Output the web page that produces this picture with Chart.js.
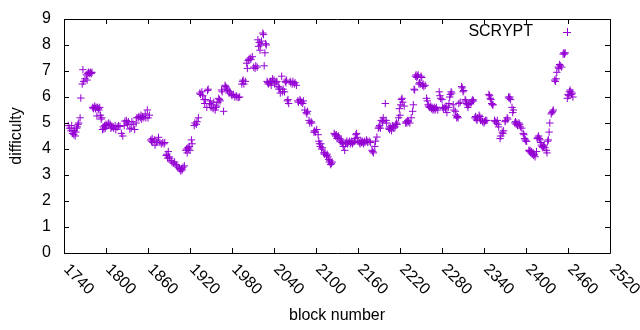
<!DOCTYPE html>
<html>
<head>
<meta charset="utf-8">
<script src="https://cdn.jsdelivr.net/npm/chart.js@4/dist/chart.umd.min.js"></script>
<style>
  html, body { margin: 0; padding: 0; background: #fff; }
  canvas { display: block; }
</style>
</head>
<body>
<canvas id="canvas" width="640" height="330"></canvas>
<script>
// data (block number, difficulty)
const blocks = [
  1746,1748,1750,1751,1752,1753,1754,1755,1756,1757,1758,1759,1760,1761,1763,1764,1766,1767,1768,1770,1772,1773,1774,1775,1776,1777,1778,1779,1780,
  1781,1782,1783,1784,1785,1786,1787,1788,1789,1790,1791,1792,1793,1794,1795,1796,1797,1798,1799,1800,1801,1803,1804,1806,1807,1808,1810,1811,1813,1814,1816,1818,1820,1822,1824,1826,1827,1829,1830,1831,1832,1834,1836,1837,1839,1841,1843,1844,1846,1847,1849,1850,1851,1852,1854,1856,1857,1859,1860,1862,
  1864,1865,1866,1867,1869,1870,1872,1873,1875,1877,1879,1881,1883,1884,
  1886,1887,1888,1889,1890,1891,1893,1894,1896,1898,1900,1901,1903,1905,1906,1907,1908,1909,1910,1912,
  1914,1915,1916,1917,1918,1919,1920,1922,1923,
  1926,1927,1929,1930,1932,1934,1935,1937,1938,1940,1941,1942,1944,1945,1946,1948,1949,1950,1951,1953,1954,1956,1957,1958,1960,1961,1962,1963,1965,1966,1968,1970,1971,1972,1973,1974,1976,1977,1979,1980,1982,1984,1986,1987,1989,1991,
  1994,1995,1996,1997,1999,2001,2002,2003,2004,2006,2007,2009,2011,2013,2014,2016,2017,2018,2019,2020,2021,2022,2024,2025,2026,2027,2028,2029,2030,
  2031,2032,2034,2035,2036,2037,2038,2040,2041,2043,2044,2046,2047,2048,2049,2051,2052,2053,2055,2056,2057,2058,2059,2060,2061,2063,2064,2066,2067,2069,2070,2072,
  2074,2075,2077,2078,2079,2081,2082,2084,2086,2087,2088,2090,2091,2093,2094,
  2097,2098,2099,2101,2103,2104,2105,2106,2107,2108,2109,2111,2112,2113,2115,2116,2117,2118,2119,2120,2121,2122,2123,
  2126,2127,2128,2129,2130,2131,2132,2134,2135,2136,2137,2138,2139,2141,2142,2143,2144,2145,2146,2148,2149,2150,2151,2152,2153,2155,2156,2157,2158,2159,2160,2162,2163,2164,2165,2166,2167,2168,2169,2170,2172,2173,2174,
  2176,2178,2180,2181,2182,2184,2185,2187,2189,2190,2191,2192,2193,2195,2196,2197,2199,2200,2201,
  2204,2205,2206,2207,2208,2209,2210,2211,2213,2214,2215,2216,2218,2219,2220,2221,2222,2223,2224,2226,2228,2229,2230,2231,2232,2234,2236,2238,2239,2240,2241,2242,2243,2244,2245,2246,2247,2248,2249,2250,2251,2252,2253,2254,2256,
  2258,2259,2260,2261,2262,2263,2264,2265,2266,2267,2268,2269,2270,2271,2272,2274,2276,2277,2278,2280,2281,2282,2284,2285,2286,2287,2289,2290,2291,2292,2293,2294,2296,2297,2299,2300,2301,2302,2303,2304,2306,2308,2309,2310,2311,2313,2314,2315,2316,2317,2318,2320,2322,2323,2324,2325,
  2327,2328,2329,2330,2331,2333,2334,2335,2337,2338,2340,2341,2342,2344,2347,2348,2349,2350,2351,2352,2353,2355,2356,2358,2359,2360,2361,2363,2364,2366,2367,2368,2370,2371,2373,2374,2375,2376,2377,2378,2380,2381,2382,
  2384,2385,2386,2387,2388,2390,2391,2392,2394,2396,2397,2398,2399,2400,2401,
  2404,2405,2406,2407,2408,2409,2410,2411,2412,2413,2415,2416,2417,2418,2419,2420,2421,2422,2423,2424,2425,2426,2427,2429,2430,2431,2432,2433,2434,2436,2437,2438,2439,2441,2442,2443,2444,2446,2447,2448,2449,2451,2453,2454,2455,2456,2459,2460,2461,2462,2463,2464,2465,2466,2467
];
const difficulty = [
  4.9,4.8,4.7,4.9,4.6,4.7,4.55,4.7,4.5,4.65,4.8,4.85,4.95,5.0,5.2,5.96,6.5,7.05,6.6,6.7,6.85,6.65,6.9,6.95,6.9,6.92,6.95,6.9,6.95,
  5.6,5.55,5.6,5.65,5.55,5.6,5.27,5.6,5.55,5.5,5.6,5.3,5.15,5.2,4.75,4.85,4.77,4.9,4.8,4.95,4.9,4.96,5.0,4.95,4.8,4.85,4.85,4.8,4.9,4.75,4.85,4.9,4.87,4.6,4.5,4.9,5.07,5.1,5.0,4.95,5.05,4.77,4.8,5.05,4.95,4.75,5.0,5.2,5.2,5.25,5.2,5.3,5.15,5.25,5.2,5.35,5.2,5.5,5.2,5.3,
  4.35,4.3,4.4,4.25,4.35,4.15,4.25,4.3,4.45,4.25,4.2,4.25,4.2,4.25,
  3.75,3.8,3.65,3.9,3.7,3.65,3.55,3.5,3.45,3.5,3.4,3.35,3.3,3.25,3.2,3.15,3.25,3.2,3.3,3.35,
  3.95,4.0,3.85,4.05,4.0,4.1,3.95,4.35,4.2,
  4.9,5.0,4.95,5.05,5.2,6.15,6.1,6.2,6.05,5.9,5.75,5.9,5.6,6.25,6.3,5.75,5.85,5.6,5.7,5.55,5.8,5.5,5.6,5.65,5.8,5.95,5.9,5.85,6.27,6.2,5.45,6.45,6.4,6.35,6.3,6.25,6.15,6.2,6.1,6.05,6.1,6.0,6.05,6.0,5.98,6.0,
  6.5,6.6,6.65,6.5,6.6,7.3,7.1,7.4,7.45,7.5,7.45,7.55,7.15,7.1,7.2,7.15,8.2,7.95,8.1,7.8,8.0,8.15,8.46,8.4,7.2,7.7,8.05,8.0,6.6,
  6.55,6.5,6.55,6.6,6.45,6.6,6.7,6.65,6.5,6.55,6.6,6.4,6.3,6.35,6.15,6.8,6.2,6.3,6.2,6.6,6.55,6.65,5.85,5.9,5.75,6.6,6.55,6.5,6.6,6.5,6.55,6.45,
  5.85,5.8,5.9,5.85,5.8,5.75,5.85,5.5,5.4,5.35,5.45,5.1,5.0,5.05,5.0,
  4.65,4.7,4.65,4.75,4.55,4.3,4.2,4.1,4.2,4.0,4.05,3.85,3.8,3.85,3.75,3.8,3.7,3.6,3.5,3.55,3.4,3.45,3.5,
  4.6,4.55,4.5,4.55,4.4,4.45,4.5,4.4,4.3,4.35,4.25,4.2,4.1,3.95,4.2,4.25,4.3,4.2,4.25,4.3,4.2,4.25,4.3,4.2,4.25,4.3,4.4,4.55,4.6,4.45,4.3,4.25,4.2,4.3,4.25,4.3,4.25,4.2,4.3,4.25,4.35,4.3,4.25,
  4.3,4.25,3.95,3.9,3.85,4.1,4.3,4.46,4.8,4.85,4.9,4.8,5.1,5.05,5.2,5.1,5.75,5.1,5.0,
  4.8,4.75,4.85,4.8,4.7,4.9,4.85,4.8,4.85,4.95,5.0,4.95,5.2,5.55,5.3,5.7,5.9,5.95,5.8,5.65,5.0,5.05,5.0,5.1,5.05,5.0,5.2,5.45,5.7,6.3,6.27,6.8,6.85,6.75,6.8,6.85,6.5,6.55,6.5,6.8,6.75,6.45,6.5,6.4,6.45,
  5.95,5.85,5.7,5.65,5.6,5.6,5.65,5.55,5.6,5.5,5.55,5.6,5.5,5.55,5.6,5.5,6.2,6.05,5.95,5.9,5.6,5.55,5.6,5.55,5.65,5.4,5.6,5.75,6.0,6.1,6.2,6.15,5.7,5.5,5.45,5.3,5.2,5.25,5.2,5.75,5.8,6.4,6.35,6.2,6.25,5.9,5.85,5.75,5.7,5.6,5.7,5.75,5.8,5.85,5.9,5.85,
  5.2,5.25,5.15,5.1,5.2,5.3,5.25,5.1,5.15,5.05,5.0,5.05,5.1,5.1,6.1,6.05,5.95,5.9,5.75,5.7,5.7,5.1,5.05,5.0,5.1,4.95,4.85,4.4,4.5,4.65,4.6,4.7,5.05,5.1,5.2,5.15,6.0,5.95,6.0,5.9,5.6,5.4,5.5,
  5.0,5.05,4.95,5.0,4.9,5.0,4.95,4.85,4.8,4.6,4.55,4.4,4.35,4.3,4.3,
  3.95,3.9,3.95,3.85,3.9,3.8,3.85,3.75,3.8,3.7,3.9,4.4,4.45,4.5,4.4,4.35,4.25,4.15,4.1,4.05,4.1,4.15,4.05,3.95,3.85,4.3,4.35,4.65,5.0,5.35,5.4,5.45,5.5,6.65,6.6,6.7,6.95,7.15,7.1,7.25,7.2,7.15,7.65,7.7,7.65,7.7,5.95,6.1,6.05,6.2,6.27,6.2,6.1,6.15,6.0
];
const xTicks = [1740, 1800, 1860, 1920, 1980, 2040, 2100, 2160, 2220, 2280, 2340, 2400, 2460, 2520];
const yTicks = [0, 1, 2, 3, 4, 5, 6, 7, 8, 9];
const seriesName = 'SCRYPT';

const purple = '#9400d3';
const font = '16px "Liberation Sans", Arial, sans-serif';

const points = blocks.map((b, i) => ({ x: b, y: difficulty[i] }));

// gnuplot-like frame, ticks, labels and key
const frame = {
  id: 'frame',
  afterDraw(chart) {
    const ctx = chart.ctx;
    const a = chart.chartArea;
    const xs = chart.scales.x, ys = chart.scales.y;
    const tick = 5;
    ctx.save();
    ctx.strokeStyle = '#000';
    ctx.lineWidth = 1;
    ctx.beginPath();
    ctx.rect(Math.round(a.left) + 0.5, Math.round(a.top) + 0.5,
      Math.round(a.right - a.left), Math.round(a.bottom - a.top));
    xTicks.forEach(v => {
      const x = Math.round(xs.getPixelForValue(v)) + 0.5;
      ctx.moveTo(x, a.bottom); ctx.lineTo(x, a.bottom - tick);
      ctx.moveTo(x, a.top); ctx.lineTo(x, a.top + tick);
    });
    yTicks.forEach(v => {
      const y = Math.round(ys.getPixelForValue(v)) + 0.5;
      ctx.moveTo(a.left, y); ctx.lineTo(a.left + tick, y);
      ctx.moveTo(a.right, y); ctx.lineTo(a.right - tick, y);
    });
    ctx.stroke();

    ctx.fillStyle = '#000';
    ctx.font = font;
    ctx.textAlign = 'right';
    ctx.textBaseline = 'middle';
    yTicks.forEach(v => {
      ctx.fillText(String(v), a.left - 13, ys.getPixelForValue(v));
    });

    ctx.textAlign = 'left';
    xTicks.forEach(v => {
      ctx.save();
      ctx.translate(xs.getPixelForValue(v) + 2, a.bottom + 14);
      ctx.rotate(Math.PI / 4);
      ctx.fillText(String(v), 0, 0);
      ctx.restore();
    });

    ctx.textAlign = 'center';
    ctx.fillText('block number', (a.left + a.right) / 2, 316);
    ctx.save();
    ctx.translate(17, (a.top + a.bottom) / 2);
    ctx.rotate(-Math.PI / 2);
    ctx.fillText('difficulty', 0, 0);
    ctx.restore();

    // key
    ctx.textAlign = 'right';
    ctx.fillText(seriesName, 533, 32);
    ctx.strokeStyle = purple;
    ctx.beginPath();
    ctx.moveTo(563, 32.5); ctx.lineTo(571, 32.5);
    ctx.moveTo(567.5, 28); ctx.lineTo(567.5, 36);
    ctx.stroke();
    ctx.restore();
  }
};

const chart = new Chart(document.getElementById('canvas'), {
  type: 'scatter',
  data: {
    datasets: [{
      label: seriesName,
      data: points,
      pointStyle: 'cross',
      pointRadius: 3.7,
      pointBorderWidth: 1,
      borderColor: purple,
      backgroundColor: purple
    }]
  },
  options: {
    responsive: false,
    animation: false,
    devicePixelRatio: 1,
    layout: { padding: { left: 64, top: 19, right: 30, bottom: 77 } },
    scales: {
      x: { type: 'linear', min: 1740, max: 2520, display: false },
      y: { min: 0, max: 9, display: false }
    },
    plugins: { legend: { display: false }, tooltip: { enabled: false } }
  },
  plugins: [frame]
});
</script>
</body>
</html>
